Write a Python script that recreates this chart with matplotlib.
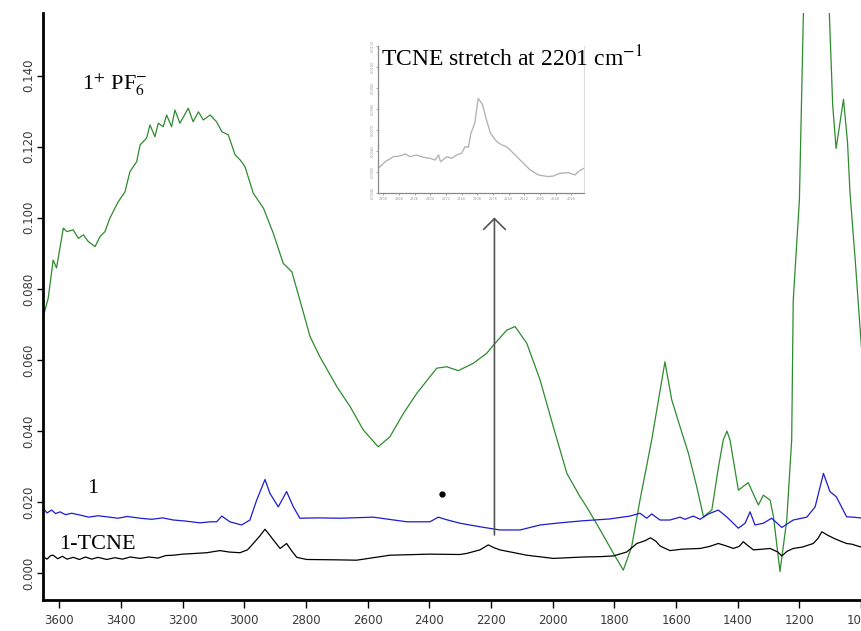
import matplotlib
matplotlib.use("Agg")
import matplotlib.pyplot as plt

plt.rcParams['mathtext.fontset'] = 'stix'

# 1+ PF6- (green)
green_wn = [3652, 3636, 3620, 3609, 3598, 3587, 3576, 3555, 3538, 3522, 3506, 3484, 3468, 3452,
            3436, 3409, 3387, 3371, 3349, 3338, 3317, 3306, 3290, 3279, 3263, 3252, 3236, 3225,
            3209, 3182, 3166, 3149, 3133, 3111, 3090, 3073, 3052, 3030, 3014, 2998, 2971, 2938,
            2906, 2874, 2846, 2820, 2787, 2755, 2700, 2657, 2614, 2566, 2528, 2484, 2441, 2410,
            2376, 2344, 2306, 2257, 2214, 2187, 2149, 2122, 2084, 2041, 1998, 1954, 1911, 1890,
            1846, 1803, 1771, 1744, 1717, 1679, 1636, 1614, 1587, 1560, 1533, 1511, 1484, 1464,
            1447, 1435, 1425, 1398, 1366, 1333, 1317, 1295, 1284, 1263, 1241, 1225, 1220, 1200,
            1187, 1165, 1150, 1130, 1103, 1092, 1081, 1057, 1044, 1036, 1019, 997, 985]
green_abs = [0.0722, 0.0774, 0.0881, 0.0859, 0.0915, 0.0971, 0.0961, 0.0966, 0.0942, 0.0952,
             0.0933, 0.0919, 0.0947, 0.0961, 0.0999, 0.1045, 0.1073, 0.1130, 0.1158, 0.1205,
             0.1224, 0.1261, 0.1228, 0.1266, 0.1256, 0.1289, 0.1256, 0.1303, 0.1266, 0.1308,
             0.1270, 0.1298, 0.1275, 0.1289, 0.1270, 0.1242, 0.1233, 0.1177, 0.1163, 0.1144,
             0.1069, 0.1027, 0.0956, 0.0872, 0.0848, 0.0769, 0.0666, 0.0609, 0.0525, 0.0469,
             0.0403, 0.0356, 0.0384, 0.0450, 0.0506, 0.0540, 0.0577, 0.0581, 0.0570, 0.0591,
             0.0619, 0.0647, 0.0684, 0.0694, 0.0647, 0.0544, 0.0412, 0.0281, 0.0215, 0.0187,
             0.0122, 0.0056, 0.0009, 0.0075, 0.0206, 0.0375, 0.0595, 0.0488, 0.0412, 0.0338,
             0.0244, 0.0159, 0.0178, 0.0291, 0.0375, 0.0400, 0.0375, 0.0234, 0.0255, 0.0192,
             0.0220, 0.0206, 0.0159, 0.0005, 0.0150, 0.0375, 0.0768, 0.1050, 0.1576, 0.1900,
             0.2000, 0.1900, 0.1576, 0.1316, 0.1195, 0.1333, 0.1213, 0.1072, 0.0881, 0.0614,
             0.0500]

# 1 (blue)
blue_wn = [3652, 3640, 3625, 3612, 3598, 3580, 3560, 3533, 3505, 3475, 3446, 3410, 3380, 3338,
           3300, 3265, 3230, 3190, 3144, 3110, 3090, 3073, 3047, 3009, 2982, 2960, 2933, 2917,
           2890, 2863, 2841, 2820, 2760, 2690, 2582, 2473, 2398, 2371, 2349, 2301, 2236, 2171,
           2106, 2041, 1977, 1900, 1815, 1750, 1717, 1695, 1679, 1652, 1620, 1587, 1571, 1544,
           1522, 1495, 1463, 1436, 1398, 1376, 1360, 1344, 1317, 1290, 1257, 1220, 1176, 1149,
           1122, 1101, 1080, 1047, 1025, 1004, 985]
blue_abs = [0.0183, 0.0170, 0.0178, 0.0168, 0.0173, 0.0165, 0.0169, 0.0164, 0.0158, 0.0162,
            0.0159, 0.0155, 0.0160, 0.0155, 0.0152, 0.0156, 0.0150, 0.0147, 0.0142, 0.0145,
            0.0145, 0.0161, 0.0145, 0.0136, 0.0150, 0.0206, 0.0264, 0.0225, 0.0187, 0.0230,
            0.0187, 0.0155, 0.0156, 0.0155, 0.0158, 0.0145, 0.0145, 0.0158, 0.0152, 0.0141,
            0.0131, 0.0122, 0.0122, 0.0136, 0.0142, 0.0148, 0.0153, 0.0161, 0.0169, 0.0155,
            0.0167, 0.0150, 0.0150, 0.0158, 0.0152, 0.0161, 0.0152, 0.0167, 0.0178, 0.0159,
            0.0127, 0.0141, 0.0173, 0.0136, 0.0141, 0.0155, 0.0129, 0.0150, 0.0158, 0.0187,
            0.0281, 0.0230, 0.0215, 0.0159, 0.0158, 0.0156, 0.0155]

# 1-TCNE (black)
black_wn = [3652, 3640, 3628, 3620, 3605, 3590, 3575, 3555, 3535, 3515, 3495, 3475, 3446, 3420,
            3395, 3370, 3338, 3310, 3280, 3255, 3230, 3200, 3160, 3122, 3079, 3050, 3014, 2990,
            2971, 2950, 2933, 2920, 2906, 2884, 2863, 2848, 2830, 2798, 2700, 2636, 2528, 2400,
            2301, 2279, 2236, 2209, 2190, 2171, 2084, 1998, 1900, 1846, 1803, 1760, 1727, 1700,
            1683, 1665, 1652, 1620, 1580, 1522, 1490, 1463, 1440, 1414, 1395, 1382, 1370, 1349,
            1320, 1295, 1270, 1257, 1240, 1220, 1190, 1155, 1140, 1127, 1110, 1087, 1065, 1047,
            1030, 1004, 985]
black_abs = [0.0047, 0.0040, 0.0050, 0.0051, 0.0041, 0.0048, 0.0040, 0.0045, 0.0039, 0.0046,
             0.0040, 0.0045, 0.0039, 0.0044, 0.0040, 0.0046, 0.0042, 0.0046, 0.0043, 0.0050,
             0.0051, 0.0054, 0.0056, 0.0058, 0.0064, 0.0060, 0.0058, 0.0066, 0.0084, 0.0105,
             0.0124, 0.0110, 0.0094, 0.0070, 0.0084, 0.0065, 0.0045, 0.0039, 0.0038, 0.0037,
             0.0051, 0.0054, 0.0053, 0.0056, 0.0066, 0.0080, 0.0072, 0.0066, 0.0051, 0.0042,
             0.0046, 0.0047, 0.0049, 0.0060, 0.0084, 0.0092, 0.0100, 0.0090, 0.0077, 0.0064,
             0.0068, 0.0070, 0.0076, 0.0084, 0.0078, 0.0070, 0.0076, 0.0089, 0.0080, 0.0066,
             0.0068, 0.0070, 0.0060, 0.0049, 0.0062, 0.0070, 0.0074, 0.0084, 0.0098, 0.0117,
             0.0108, 0.0098, 0.0090, 0.0084, 0.0082, 0.0075, 0.0073]

# inset: TCNE stretch
inset_wn = [2410, 2396, 2379, 2366, 2355, 2345, 2332, 2318, 2304, 2294, 2287, 2283, 2270, 2260,
            2250, 2240, 2233, 2226, 2221, 2213, 2206, 2197, 2190, 2181, 2168, 2158, 2148, 2134,
            2117, 2100, 2083, 2063, 2053, 2039, 2022, 2008, 2002, 1990]
inset_abs = [0.00519, 0.00550, 0.00574, 0.00577, 0.00587, 0.00574, 0.00582, 0.00571, 0.00566,
             0.00558, 0.00582, 0.00550, 0.00574, 0.00566, 0.00582, 0.00590, 0.00621, 0.00619,
             0.00685, 0.00733, 0.00851, 0.00820, 0.00756, 0.00685, 0.00645, 0.00630, 0.00621,
             0.00590, 0.00550, 0.00511, 0.00487, 0.00479, 0.00482, 0.00495, 0.00498, 0.00487,
             0.00503, 0.00519]
inset_xticks = [2400, 2368, 2336, 2304, 2272, 2240, 2208, 2176, 2144, 2112, 2080, 2048, 2016]
inset_yticks = [0.004, 0.005, 0.006, 0.007, 0.008, 0.009, 0.010, 0.011]

xticks = [3600, 3400, 3200, 3000, 2800, 2600, 2400, 2200, 2000, 1800, 1600, 1400, 1200, 1000]
yticks = [0.000, 0.020, 0.040, 0.060, 0.080, 0.100, 0.120, 0.140]

dot_wn, dot_abs = 2358, 0.0223
arrow_wn, arrow_from, arrow_to = 2189, 0.0108, 0.1001

fig = plt.figure(figsize=(8.62, 6.31), dpi=100)
ax = fig.add_axes([0.0495, 0.0491, 0.9505, 0.9298])

ax.plot(green_wn, green_abs, color='#2e8b2e', lw=0.9)
ax.plot(blue_wn, blue_abs, color='#1c1cd0', lw=0.9)
ax.plot(black_wn, black_abs, color='black', lw=0.9)
ax.plot([dot_wn], [dot_abs], 'o', color='black', ms=3.5)

# arrow pointing up to the inset
ax.annotate('', xy=(arrow_wn, arrow_to), xytext=(arrow_wn, arrow_from),
            arrowprops=dict(arrowstyle='->,head_length=0.65,head_width=0.65',
                            color='#555555', lw=1.2, mutation_scale=12,
                            shrinkA=0, shrinkB=0))

ax.set_xlim(3654, 997)
ax.set_ylim(-0.0075, 0.1575)
ax.set_xticks(xticks)
ax.set_xticklabels([str(t) for t in xticks])
ax.set_yticks(yticks)
ax.set_yticklabels(['%.3f' % t for t in yticks], rotation=90, va='center')
ax.tick_params(axis='both', labelsize=8.5, labelcolor='#3a3a3a', width=1)
ax.tick_params(axis='x', length=6, pad=4)
ax.tick_params(axis='y', length=4, pad=1.5)
for s in ['top', 'right']:
    ax.spines[s].set_visible(False)
for s in ['left', 'bottom']:
    ax.spines[s].set_linewidth(2)

serif = ['Liberation Serif', 'DejaVu Serif']
ax.text(0.0476, 0.8694, '1$^{+}$ PF$_{6}^{-}$', transform=ax.transAxes,
        family=serif, fontsize=16, va='baseline')
ax.text(0.0537, 0.1819, '1', transform=ax.transAxes, family=serif,
        fontsize=16, va='baseline')
ax.text(0.0199, 0.0864, '1-TCNE', transform=ax.transAxes, family=serif,
        fontsize=16, va='baseline')

# inset
ins = fig.add_axes([0.4389, 0.6937, 0.2386, 0.2334])
ins.plot(inset_wn, inset_abs, color='#b5b5b5', lw=1.0)
ins.set_xlim(2410, 1990)
ins.set_ylim(0.0040, 0.0110)
ins.set_xticks(inset_xticks)
ins.set_xticklabels([str(t) for t in inset_xticks])
ins.set_yticks(inset_yticks)
ins.set_yticklabels(['%.4f' % t for t in inset_yticks], rotation=90, va='center')
ins.tick_params(labelsize=2.5, labelcolor='#999999', length=1.5, width=0.6,
                color='#999999', pad=1)
ins.spines['top'].set_visible(False)
for s in ['left', 'bottom']:
    ins.spines[s].set_color('#888888')
    ins.spines[s].set_linewidth(0.9)
ins.spines['right'].set_color('#dddddd')
ins.spines['right'].set_linewidth(0.8)

fig.text(0.442, 0.8943, 'TCNE stretch at 2201 cm$^{-1}$', family=serif,
         fontsize=17, va='baseline')

fig.savefig('out.png', dpi=100)
